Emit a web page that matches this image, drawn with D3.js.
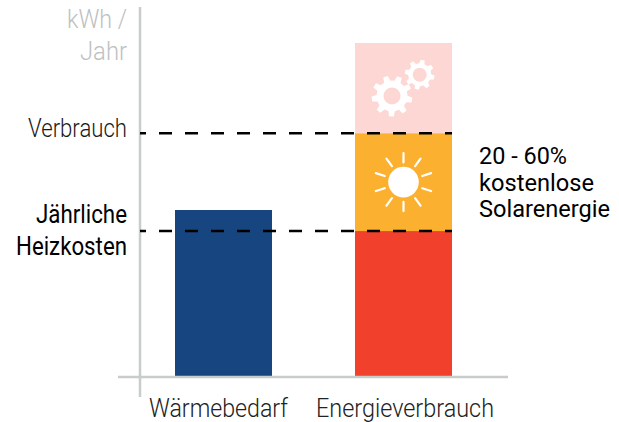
<!DOCTYPE html>
<html><head><meta charset="utf-8">
<script src="https://cdn.jsdelivr.net/npm/d3@7"></script>
<style>html,body{margin:0;background:#fff}svg{display:block}text{font-family:Roboto,sans-serif}</style>
</head><body><svg id="c" width="619" height="422"></svg>
<script>
const categories=["Wärmebedarf","Energieverbrauch"];
const demand=[50];
const segments=["heat","solar","process"];
const energy=[43.7,29.3,27];
const segColors=["#f1402b","#fcb030","#fdd7d4"];
const refValues=[73,43.7];
const yLabel=["kWh /","Jahr"];
const svg=d3.select("#c");
const y=d3.scaleLinear().domain([0,100]).range([377,43]);
const x=d3.scaleBand().domain(categories).range([175,452]).paddingInner(0.461).paddingOuter(0);
const bw=x.bandwidth();
function label(t,xp,yp,len,o={}){
  svg.append("text").text(t).attr("x",xp).attr("y",yp).attr("text-anchor",o.anchor||"start")
   .attr("font-size",o.size||26).attr("font-weight",o.weight||300).attr("fill",o.fill||"#1a1a1a")
   .attr("textLength",len).attr("lengthAdjust","spacingAndGlyphs");
}
svg.append("rect").attr("x",x(categories[0])).attr("width",bw).attr("y",y(demand[0])).attr("height",y(0)-y(demand[0])).attr("fill","#17457f");
const stack=d3.cumsum(energy);
energy.forEach((v,i)=>{
  svg.append("rect").attr("x",x(categories[1])).attr("width",bw).attr("y",y(stack[i])).attr("height",y(stack[i]-v)-y(stack[i])).attr("fill",segColors[i]);
});
const axisC="#c8cccc";
svg.append("line").attr("x1",140).attr("x2",140).attr("y1",7).attr("y2",397).attr("stroke",axisC).attr("stroke-width",2.5);
svg.append("line").attr("x1",118).attr("x2",508).attr("y1",y(0)).attr("y2",y(0)).attr("stroke",axisC).attr("stroke-width",2.5);
refValues.forEach(v=>svg.append("line").attr("x1",140).attr("x2",x(categories[1])+bw).attr("y1",y(v)).attr("y2",y(v))
  .attr("stroke","#000").attr("stroke-width",2.6).attr("stroke-dasharray","13 13").attr("stroke-dashoffset",7));
const cx=x(categories[1])+bw/2, sunY=y(stack[1]-energy[1]/2);
const sun=svg.append("g").attr("transform",`translate(${cx},${sunY})`);
sun.append("circle").attr("r",15.3).attr("fill","#fff");
d3.range(10).forEach(i=>{const a=i*Math.PI/5;
  sun.append("line").attr("x1",19.7*Math.sin(a)).attr("y1",-19.7*Math.cos(a)).attr("x2",29*Math.sin(a)).attr("y2",-29*Math.cos(a))
   .attr("stroke","#fff").attr("stroke-width",2.2).attr("stroke-linecap","round");});
function gear(gx,gy,ro,ri,hole,n,rot){
  const pts=[];
  for(let i=0;i<n;i++){const s=2*Math.PI/n,a=i*s+rot;
    [[-.3,ri],[-.17,ro],[.17,ro],[.3,ri]].forEach(([f,r])=>pts.push([gx+r*Math.cos(a+f*s),gy+r*Math.sin(a+f*s)]));}
  svg.append("path").attr("fill","#fff").attr("fill-rule","evenodd")
   .attr("d",d3.line()(pts)+"Z"+`M${gx+hole},${gy}a${hole},${hole} 0 1,0 ${-2*hole},0a${hole},${hole} 0 1,0 ${2*hole},0Z`);
}
gear(392,96,20.5,15.5,8.5,9,0.2);
gear(419.7,74.7,15,11.5,7,8,0.2);
yLabel.forEach((t,i)=>label(t,127,i?59.5:27.5,i?47:60,{anchor:"end",fill:"#bdc1c1"}));
label("Verbrauch",127,136.7,99,{anchor:"end"});
label("Jährliche",127,222.7,91,{anchor:"end",weight:400,fill:"#000"});
label("Heizkosten",127,255,111,{anchor:"end",weight:400,fill:"#000"});
label("20 - 60%",479,164,88,{size:24,weight:400,fill:"#000"});
label("kostenlose",479,190.7,115,{size:24,weight:400,fill:"#000"});
label("Solarenergie",479,216.7,131,{size:24,weight:400,fill:"#000"});
label(categories[0],149,416.5,139,{fill:"#222"});
label(categories[1],316,416.5,178,{fill:"#222"});
</script></body></html>
